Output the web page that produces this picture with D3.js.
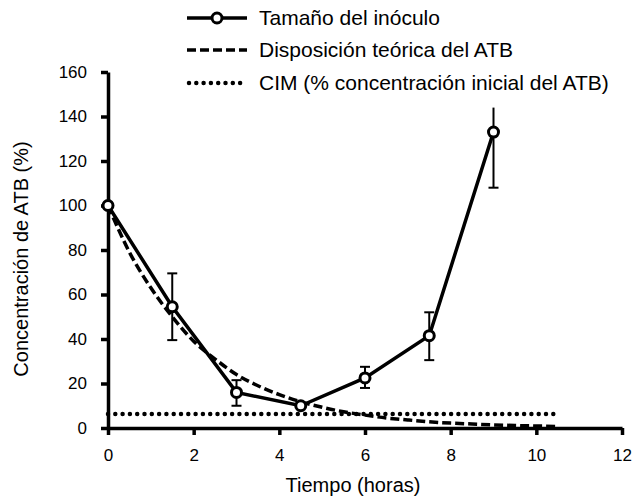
<!DOCTYPE html>
<html>
<head>
<meta charset="utf-8">
<script src="https://cdn.jsdelivr.net/npm/d3@7"></script>
<style>
body { margin: 0; background: #fff; }
text { font-family: "Liberation Sans", Arial, sans-serif; fill: #000; }
</style>
</head>
<body>
<div id="chartDiv"></div>
<script>
// measured series (Tamaño del inóculo)
let timeHours = [0, 1.5, 3, 4.5, 6, 7.5, 9];
let inoculo = [100, 54.5, 16, 10, 22.5, 41.5, 133];
let errUpper = [100, 69.5, 21.5, 10, 27.5, 52, 144];
let errLower = [100, 39.5, 10, 10, 18, 30.5, 108];

// theoretical disposition
let teoricaTime = [0, 0.5, 1, 1.5, 2, 2.5, 3, 3.5, 4, 4.5, 5, 5.5, 6, 6.5, 7, 7.5, 8, 8.5, 9, 9.5, 10, 10.5];
let teorica = [100, 79, 63, 50, 39, 31, 24, 19, 15, 11.8, 9.3, 7.3, 5.8, 4.5, 3.6, 2.8, 2.2, 1.8, 1.4, 1.1, 0.9, 0.7];

// CIM
let cimTime = [0, 10.4];
let cim = [6.3, 6.3];

let xTicks = [0, 2, 4, 6, 8, 10, 12];
let yTicks = [0, 20, 40, 60, 80, 100, 120, 140, 160];
let legendLabels = ["Tamaño del inóculo", "Disposición teórica del ATB", "CIM (% concentración inicial del ATB)"];

let svgWidth = 635, svgHeight = 498;

let svg = d3.select("#chartDiv")
	.append("svg")
	.attr("width", svgWidth)
	.attr("height", svgHeight);

let xScale = d3.scaleLinear()
	.range([108, 622])
	.domain([0, 12]);

let yScale = d3.scaleLinear()
	.range([428, 72])
	.domain([0, 160]);

// axes
let xAxis = d3.axisBottom(xScale).tickValues(xTicks).tickSize(7).tickPadding(14).tickSizeOuter(0);
let yAxis = d3.axisLeft(yScale).tickValues(yTicks).tickSize(7).tickPadding(14).tickSizeOuter(0);

let gx = svg.append("g")
	.attr("transform", "translate(0," + yScale(0) + ")")
	.call(xAxis);
let gy = svg.append("g")
	.attr("transform", "translate(" + xScale(0) + ",0)")
	.call(yAxis);

[gx, gy].forEach(function(g){
	g.select(".domain").attr("stroke", "#000").attr("stroke-width", 3.5);
	g.selectAll(".tick line").attr("stroke", "#000").attr("stroke-width", 3.5);
	g.selectAll(".tick text").style("font-size", "17px").attr("fill", "#000");
});

// axis titles
svg.append("text")
	.attr("x", 353).attr("y", 492)
	.attr("text-anchor", "middle")
	.style("font-size", "20px")
	.text("Tiempo (horas)");

svg.append("text")
	.attr("transform", "translate(28,259) rotate(-90)")
	.attr("text-anchor", "middle")
	.style("font-size", "20px")
	.text("Concentración de ATB (%)");

let line = d3.line()
	.x(function(d){ return xScale(d[0]); })
	.y(function(d){ return yScale(d[1]); });

let smooth = d3.line()
	.curve(d3.curveMonotoneX)
	.x(function(d){ return xScale(d[0]); })
	.y(function(d){ return yScale(d[1]); });

// CIM dotted
svg.append("path")
	.attr("d", line(d3.zip(cimTime, cim)))
	.attr("fill", "none")
	.attr("stroke", "#000")
	.attr("stroke-width", 4.5)
	.attr("stroke-linecap", "round")
	.attr("stroke-dasharray", "0,7.3");

// theoretical dashed
svg.append("path")
	.attr("d", smooth(d3.zip(teoricaTime, teorica)))
	.attr("fill", "none")
	.attr("stroke", "#000")
	.attr("stroke-width", 3.5)
	.attr("stroke-dasharray", "9,4");

// error bars
let errGroup = svg.append("g");
timeHours.forEach(function(t, i){
	if(errUpper[i] === errLower[i]) return;
	let x = xScale(t);
	errGroup.append("line")
		.attr("x1", x).attr("x2", x)
		.attr("y1", yScale(errUpper[i])).attr("y2", yScale(errLower[i]))
		.attr("stroke", "#000").attr("stroke-width", 2);
	[errUpper[i], errLower[i]].forEach(function(v){
		if(v > 140.5) return;
		errGroup.append("line")
			.attr("x1", x - 5).attr("x2", x + 5)
			.attr("y1", yScale(v)).attr("y2", yScale(v))
			.attr("stroke", "#000").attr("stroke-width", 2);
	});
});

// measured solid
svg.append("path")
	.attr("d", line(d3.zip(timeHours, inoculo)))
	.attr("fill", "none")
	.attr("stroke", "#000")
	.attr("stroke-width", 3.5);

svg.selectAll(".pt")
	.data(d3.zip(timeHours, inoculo))
	.enter().append("circle")
	.attr("class", "pt")
	.attr("cx", function(d){ return xScale(d[0]); })
	.attr("cy", function(d){ return yScale(d[1]); })
	.attr("r", 5)
	.attr("fill", "#fff")
	.attr("stroke", "#000")
	.attr("stroke-width", 3);

// legend
let legend = svg.append("g");
let legendY = [18, 50, 83];
legend.append("line")
	.attr("x1", 187).attr("x2", 247).attr("y1", legendY[0]).attr("y2", legendY[0])
	.attr("stroke", "#000").attr("stroke-width", 3.5);
legend.append("circle")
	.attr("cx", 217).attr("cy", legendY[0]).attr("r", 5)
	.attr("fill", "#fff").attr("stroke", "#000").attr("stroke-width", 3);
legend.append("line")
	.attr("x1", 187).attr("x2", 247).attr("y1", legendY[1]).attr("y2", legendY[1])
	.attr("stroke", "#000").attr("stroke-width", 3.5)
	.attr("stroke-dasharray", "9,4");
legend.append("line")
	.attr("x1", 189).attr("x2", 243).attr("y1", legendY[2]).attr("y2", legendY[2])
	.attr("stroke", "#000").attr("stroke-width", 4.5)
	.attr("stroke-linecap", "round")
	.attr("stroke-dasharray", "0,7.3");

legendLabels.forEach(function(lbl, i){
	legend.append("text")
		.attr("x", 259).attr("y", legendY[i] + 7)
		.style("font-size", "21px")
		.text(lbl);
});
</script>
</body>
</html>
